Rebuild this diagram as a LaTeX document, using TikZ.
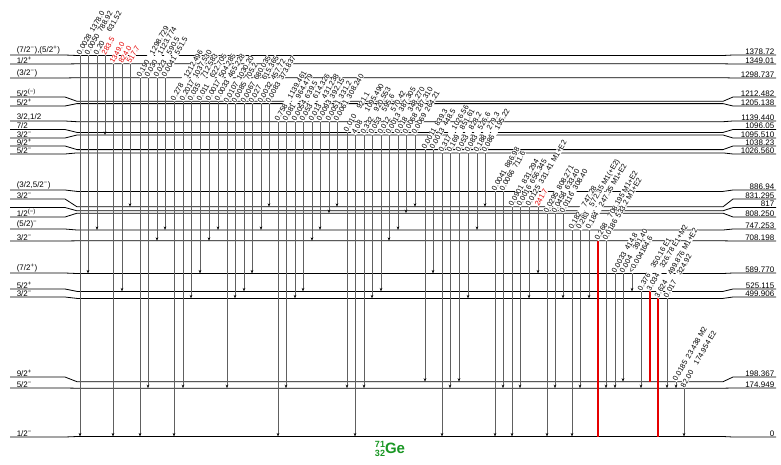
\documentclass[tikz,border=0pt]{standalone}
\usepackage{fontspec}
\setmainfont{Liberation Sans}
\usetikzlibrary{arrows.meta}

\definecolor{geGreen}{RGB}{25,150,35}
\definecolor{hotRed}{RGB}{230,0,0}

\tikzset{
  lvl/.style={line width=0.8pt, black},
  spinlab/.style={anchor=south west, inner sep=0.6pt, font=\fontsize{8}{8}\selectfont},
  enlab/.style={anchor=south east, inner sep=0.6pt, font=\fontsize{8}{8}\selectfont},
  gam/.style={draw=gray!75!black, line width=0.7pt, -{Stealth[length=3.5pt,width=2.6pt,black]}},
  strong/.style={draw=hotRed, line width=2.6pt},
  glab/.style={rotate=60, anchor=west, inner sep=0.3pt, fill=white, yshift=2pt,
    font=\fontsize{7.4}{7.4}\selectfont},
  redlab/.style={glab, text=hotRed},
}

\newcommand\spm{\textsuperscript{−}}
\newcommand\spp{\textsuperscript{+}}
\newcommand\gl[2]{\makebox[26pt][l]{#1}#2}

% level: name, y of level, y of its labels, spin, energy
\newcommand\level[5]{%
  \coordinate (#1) at (0,#2);
  \draw[lvl] (10,#3) -- (65,#3) -- (77,#2) -- (723,#2) -- (733,#3) -- (776,#3);
  \node[spinlab] (#1s) at (16,#3) {#4};
  \node[enlab] (#1e) at (775,#3) {#5};
}

% all gammas leaving one level
\newcommand\cascade[2]{%
  \foreach \x/\t/\i/\e in {#2}{
    \draw[gam] (\x,0 |- #1) -- (\x,0 |- \t);
    \node[glab] (g\x) at (\x,0 |- #1) {\gl{\i}{\e}};
  }}

\begin{document}
\begin{tikzpicture}[x=1pt, y=-1pt]
  \useasboundingbox (0,0) rectangle (781,464);

  \level{L1379}{55.5}{55}{(7/2\spm),(5/2\spp)}{1378.72}
  \level{L1349}{63.8}{64}{1/2\spp}{1349.01}
  \level{L1299}{77.7}{78}{(3/2\spm)}{1298.737}
  \level{L1212}{101.3}{97}{5/2\textsuperscript{(−)}}{1212.482}
  \level{L1205}{103.6}{106}{5/2\spp}{1205.138}
  \level{L1139}{121.7}{121}{3/2,1/2}{1139.440}
  \level{L1096}{132.4}{129.5}{7/2}{1096.05}
  \level{L1095}{135}{138}{3/2\spm}{1095.510}
  \level{L1038}{149.6}{146}{9/2\spp}{1038.23}
  \level{L1027}{152.9}{154}{5/2\spm}{1026.560}
  \level{L887}{191.4}{190}{(3/2,5/2\spm)}{886.94}
  \level{L831}{206.8}{199}{3/2\spm}{831.295}
  \level{L817}{210.8}{207.5}{}{817}
  \level{L808}{213.2}{217}{1/2\textsuperscript{(−)}}{808.250}
  \level{L747}{230}{229}{(5/2)\spm}{747.253}
  \level{L708}{240.8}{241}{3/2\spm}{708.198}
  \level{L590}{273.5}{273}{(7/2\spp)}{589.770}
  \level{L525}{291.4}{289}{5/2\spp}{525.115}
  \level{L500}{298.4}{297}{3/2\spm}{499.906}
  \level{L198}{381.7}{377}{9/2\spp}{198.367}
  \level{L175}{388.2}{388}{5/2\spm}{174.949}
  \level{L0}{436.5}{437}{1/2\spm}{0}

  \cascade{L1379}{80/L0/0.0028/1378.0, 88/L590/0.0050/788.92, 97/L747/0.20/631.52}
  \draw[gam] (105,0 |- L1379) -- (105,0 |- L1095);
  \node[redlab] (g105) at (105,0 |- L1379) {283.5};

  \draw[gam] (113,0 |- L1349) -- (113,0 |- L0);
  \draw[gam] (122,0 |- L1349) -- (122,0 |- L525);
  \draw[gam] (130,0 |- L1349) -- (130,0 |- L831);
  \node[redlab] (g113) at (113,0 |- L1349) {1349.0};
  \node[redlab] (g122) at (122,0 |- L1349) {824.0};
  \node[redlab] (g130) at (130,0 |- L1349) {517.7};

  \cascade{L1299}{140/L0/0.190/1298.729, 148/L175/0.030/1123.774, 157/L708/0.023/590.5,
    165/L747/0.0041/551.5}
  \cascade{L1212}{174/L0/0.278/1212.496, 183/L175/0.2017/1037.530, 191/L500/0.035/712.583,
    200/L590/0.011/622.705, 209/L708/0.0017/504.285, 218/L747/0.0033/465.228}
  \cascade{L1205}{227/L175/0.0107/1030.20, 235/L500/0.0085/705.2, 244/L525/0.0067/680.035,
    252/L590/0.027/615.365, 261/L747/0.0032/457.72, 269/L831/0.0083/373.837}
  \cascade{L1139}{278/L0/0.758/1139.461, 286/L175/0.081/964.479, 295/L500/0.0054/639.5,
    303/L525/0.053/614.326, 312/L708/0.013/431.238, 320/L747/0.0093/392.15,
    329/L808/0.0051/331.2, 337/L831/0.0061/308.240}
  \cascade{L1096}{347/L175/0.010/921.1}
  \cascade{L1095}{355/L0/4.08/1095.490, 364/L175/0.332/920.553, 372/L500/0.053/595.6,
    381/L525/0.012/570.42, 389/L708/0.0013/387.305, 398/L747/0.018/348.270,
    406/L808/0.0068/287.310, 415/L831/0.0069/264.21}
  \cascade{L1038}{425/L198/0.0011/839.3, 433/L590/0.0013/448.5}
  \cascade{L1027}{442/L0/0.317/1026.56, 450/L175/0.169/851.61, 459/L198/0.053/828.2,
    468/L500/0.083/526.6, 477/L747/0.188/279.3, 485/L831/0.086/195.22}
  \cascade{L887}{495/L0/0.0041/886.98, 503/L175/0.0066/711.6}
  \cascade{L831}{512/L0/0.0901/831.294, 520/L175/0.0016/656.345, 529/L500/0.0125/331.41 M1+E2}
  \draw[gam] (538,0 |- L831) -- (538,0 |- L590);
  \node[redlab] (g538) at (538,0 |- L831) {241.7};
  \cascade{L808}{547/L0/0.0295/808.271, 555/L175/0.0458/633.40, 563/L500/0.0116/308.40}
  \cascade{L747}{572/L0/0.182/747.28, 580/L175/0.283/572.35 M1(+E2), 589/L500/0.184/247.35 M1+E2}

  \draw[strong] (598,0 |- L708) -- (598,0 |- L0);
  \node[glab] (g598) at (598,0 |- L708) {\gl{0.268}{708.195 M1+E2}};
  \cascade{L708}{606/L175/0.0186/533.2 M1+E2}
  \cascade{L590}{615/L175/0.0033/414.8, 623/L198/0.004/391.40, 632/L525/<0.0041/64.6}
  \cascade{L525}{641/L175/0.376/350.16 E1}
  \draw[strong] (650,0 |- L525) -- (650,0 |- L198);
  \node[glab] (g650) at (650,0 |- L525) {\gl{3.034}{326.78 E1+M2}};
  \draw[strong] (658,0 |- L500) -- (658,0 |- L0);
  \node[glab] (g658) at (658,0 |- L500) {\gl{3.624}{499.876 M1+E2}};
  \cascade{L500}{667/L175/0.017/324.92}
  \cascade{L198}{676/L175/0.0185/23.438 M2}
  \cascade{L175}{684/L0/82.00/174.954 E2}

  \node[text=geGreen, font=\fontsize{15}{15}\selectfont\bfseries] (nuc) at (390,449)
    {\raisebox{-3pt}{\fontsize{9}{8.5}\selectfont\shortstack{71\\32}}Ge};
\end{tikzpicture}
\end{document}
